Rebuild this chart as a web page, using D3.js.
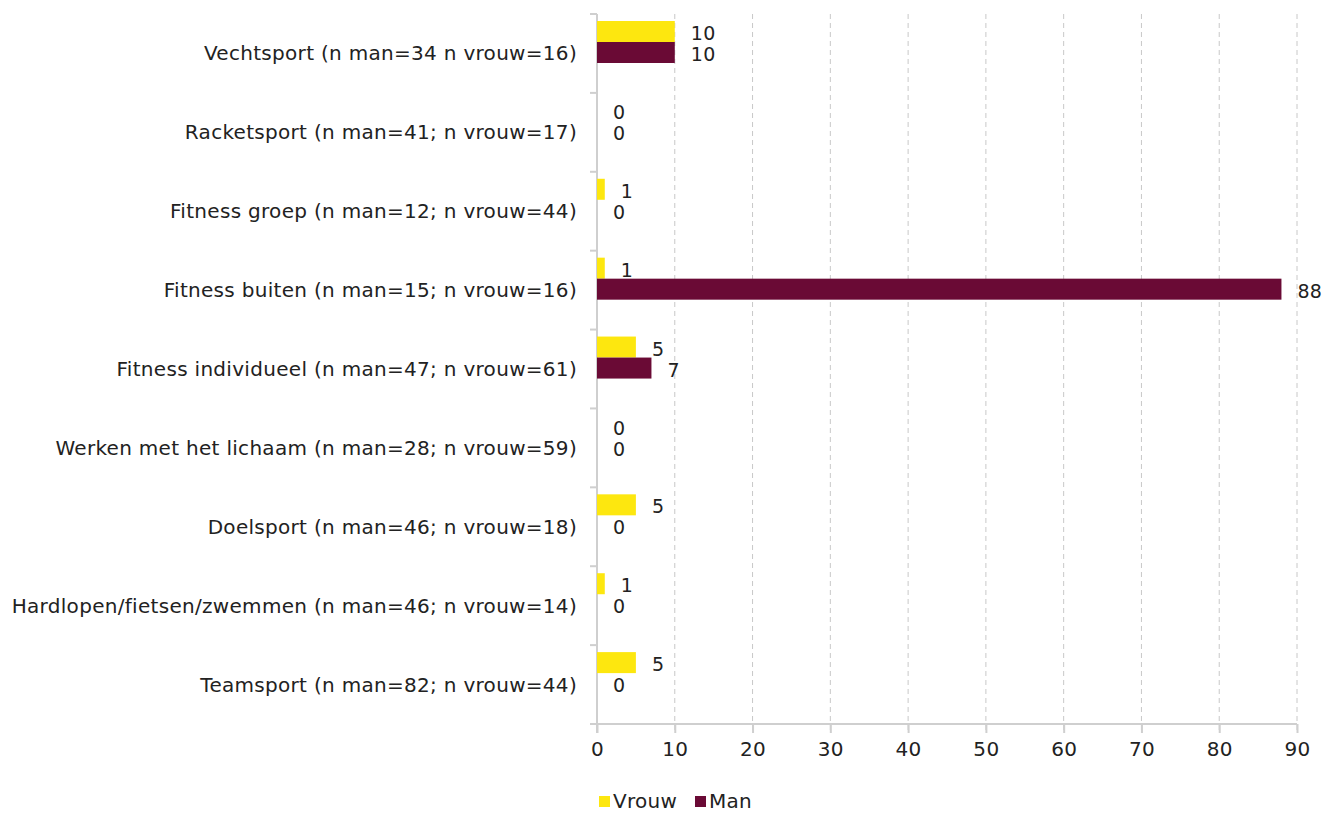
<!DOCTYPE html>
<html>
  <head>
    <title>Sport blessures</title>
    <script src="https://d3js.org/d3.v7.min.js"></script>
    <style>
      body { margin: 0; background: #fff; }
      text { font-family: "DejaVu Sans", sans-serif; fill: #222; letter-spacing: 0.3px; }
      .grid line { stroke: #c8c8c8; stroke-dasharray: 5,4; }
      .axis path, .axis line { stroke: #cfcfcf; stroke-width: 2px; }
    </style>
  </head>
  <body>
    <div class="chart"></div>
    <script>
      // data
      var categories = [
        "Vechtsport (n man=34 n vrouw=16)",
        "Racketsport (n man=41; n vrouw=17)",
        "Fitness groep (n man=12; n vrouw=44)",
        "Fitness buiten (n man=15; n vrouw=16)",
        "Fitness individueel (n man=47; n vrouw=61)",
        "Werken met het lichaam (n man=28; n vrouw=59)",
        "Doelsport (n man=46; n vrouw=18)",
        "Hardlopen/fietsen/zwemmen (n man=46; n vrouw=14)",
        "Teamsport (n man=82; n vrouw=44)"
      ];
      var vrouw = [10, 0, 1, 1, 5, 0, 5, 1, 5];
      var man = [10, 0, 0, 88, 7, 0, 0, 0, 0];
      var seriesNames = ["Vrouw", "Man"];
      var xTicks = [0, 10, 20, 30, 40, 50, 60, 70, 80, 90];

      var colors = ["#fde70f", "#6a0a35"];
      var fs = "20px";
      var W = 1327, H = 813;
      var pLeft = 597, pRight = 1297, pTop = 14, pBottom = 724;

      var svg = d3.select(".chart").append("svg")
        .attr("width", W).attr("height", H);

      var x = d3.scaleLinear().domain([0, 90]).range([pLeft, pRight]);
      var y = d3.scaleBand().domain(categories).range([pTop, pBottom]);

      // grid
      svg.append("g").attr("class", "grid")
        .selectAll("line").data(xTicks.slice(1)).enter().append("line")
        .attr("x1", function(d) { return x(d); })
        .attr("x2", function(d) { return x(d); })
        .attr("y1", pTop).attr("y2", pBottom + 9);

      // x axis
      var xAxis = svg.append("g").attr("class", "axis")
        .attr("transform", "translate(0," + pBottom + ")")
        .call(d3.axisBottom(x).tickValues(xTicks).tickSize(9).tickSizeOuter(0).tickPadding(9));
      xAxis.attr("font-size", null).attr("font-family", null);
      xAxis.selectAll("text").style("font-size", fs);
      xAxis.select(".domain").attr("d", "M" + (pLeft - 7) + ",0H" + pRight);
      xAxis.selectAll(".tick line").filter(function(d) { return d > 0; }).attr("stroke", "none");

      // y axis
      var yAxis = svg.append("g").attr("class", "axis")
        .attr("transform", "translate(" + pLeft + ",0)")
        .call(d3.axisLeft(y).tickSize(0).tickPadding(20));
      yAxis.attr("font-size", null).attr("font-family", null);
      yAxis.selectAll("text").style("font-size", fs)
        .attr("dy", "0.35em");
      yAxis.select(".domain").attr("d", "M0," + pTop + "V" + (pBottom + 9));
      yAxis.selectAll(".sep").data(d3.range(categories.length)).enter().append("line")
        .attr("class", "sep")
        .attr("x1", -7).attr("x2", 0)
        .attr("y1", function(i) { return pTop + i * y.step(); })
        .attr("y2", function(i) { return pTop + i * y.step(); });

      // bars
      var barH = 21, offset = 7;
      [vrouw, man].forEach(function(vals, s) {
        var g = svg.append("g");
        g.selectAll("rect").data(vals).enter().append("rect")
          .attr("x", x(0))
          .attr("y", function(d, i) { return y(categories[i]) + offset + s * barH; })
          .attr("width", function(d) { return x(d) - x(0); })
          .attr("height", barH)
          .attr("fill", colors[s]);
        g.selectAll("text").data(vals).enter().append("text")
          .attr("x", function(d) { return x(d) + 16; })
          .attr("y", function(d, i) { return y(categories[i]) + offset + s * barH + barH / 2 + 2; })
          .attr("dy", "0.35em")
          .style("font-size", "19px")
          .text(function(d) { return d; });
      });

      // legend
      var lg = svg.append("g").attr("transform", "translate(599,801)");
      var lx = [0, 96];
      seriesNames.forEach(function(n, i) {
        lg.append("rect").attr("x", lx[i]).attr("y", -5).attr("width", 11).attr("height", 11).attr("fill", colors[i]);
        lg.append("text").attr("x", lx[i] + 14).attr("y", 0).attr("dy", "0.35em")
          .style("font-size", fs).text(n);
      });
    </script>
  </body>
</html>
